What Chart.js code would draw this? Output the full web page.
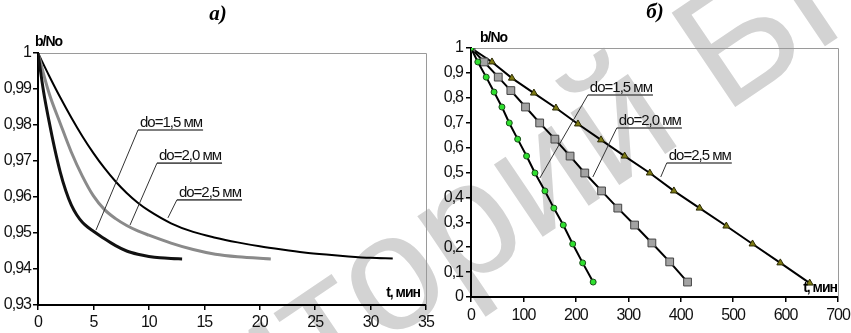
<!DOCTYPE html>
<html>
<head>
<meta charset="utf-8">
<script src="https://cdn.jsdelivr.net/npm/chart.js@4.4.1/dist/chart.umd.min.js"></script>
<style>
  html, body { margin: 0; padding: 0; background: #fff; }
  #wrap { position: relative; width: 851px; height: 333px; overflow: hidden; }
  #wm, #chartA, #chartB { position: absolute; top: 0; }
  #wm { left: 0; }
  #chartA { left: 0; }
  #chartB { left: 430px; }
</style>
</head>
<body>
<div id="wrap">
  <canvas id="wm" width="851" height="333"></canvas>
  <canvas id="chartA" width="440" height="333"></canvas>
  <canvas id="chartB" width="421" height="333"></canvas>
</div>
<script>
// ---- a) b/No against t, min: smooth curves
const tA15 = [0, 0.5, 1, 1.5, 2, 2.5, 3, 3.5, 4, 4.5, 5, 6, 7, 8, 9, 10, 11, 12, 13];
const vA15 = [1, 0.9893, 0.9810, 0.9735, 0.9670, 0.9618, 0.9578, 0.9550, 0.9530, 0.9516, 0.9505, 0.9484, 0.9465, 0.9450, 0.9441, 0.9435, 0.9431, 0.9429, 0.9428];
const tA20 = [0, 1, 2, 3, 4, 5, 6, 7, 8, 9, 10, 12, 14, 16, 18, 21];
const vA20 = [1, 0.9888, 0.9805, 0.9725, 0.9658, 0.9603, 0.9565, 0.9540, 0.9521, 0.9506, 0.9494, 0.9472, 0.9454, 0.9441, 0.9434, 0.9428];
const tA25 = [0, 1, 2, 3, 4, 5, 6, 7, 8, 9, 10, 12, 14, 16, 18, 20, 22, 24, 26, 28, 30, 32];
const vA25 = [1, 0.9937, 0.9877, 0.9821, 0.9769, 0.9722, 0.9680, 0.9643, 0.9611, 0.9584, 0.9562, 0.9527, 0.9503, 0.9487, 0.9474, 0.9463, 0.9454, 0.9446, 0.9440, 0.9435, 0.9431, 0.9429];

const yValsA = [0.93, 0.94, 0.95, 0.96, 0.97, 0.98, 0.99, 1];
const yLabA = ['0,93', '0,94', '0,95', '0,96', '0,97', '0,98', '0,99', '1'];
const xValsA = [0, 5, 10, 15, 20, 25, 30, 35];
const xLabA = ['0', '5', '10', '15', '20', '25', '30', '35'];

// ---- б) b/No against t, min: measured points
const tB15 = [0, 13, 29, 44, 59, 73, 89, 106, 122, 141, 158, 176, 194, 213, 233];
const vB15 = [1, 0.944, 0.883, 0.823, 0.763, 0.699, 0.634, 0.566, 0.498, 0.426, 0.357, 0.289, 0.213, 0.137, 0.06];
const tB20 = [0, 25, 52, 76, 104, 131, 160, 189, 217, 249, 280, 312, 345, 379, 413];
const vB20 = [1, 0.944, 0.883, 0.829, 0.763, 0.699, 0.634, 0.566, 0.498, 0.426, 0.357, 0.289, 0.217, 0.141, 0.06];
const tB25 = [0, 40, 78, 120, 162, 204, 248, 293, 341, 387, 436, 487, 537, 590, 646];
const vB25 = [1, 0.944, 0.879, 0.819, 0.759, 0.695, 0.631, 0.566, 0.498, 0.426, 0.357, 0.285, 0.213, 0.137, 0.056];

const yValsB = [0, 0.1, 0.2, 0.3, 0.4, 0.5, 0.6, 0.7, 0.8, 0.9, 1];
const yLabB = ['0', '0,1', '0,2', '0,3', '0,4', '0,5', '0,6', '0,7', '0,8', '0,9', '1'];
const xValsB = [0, 100, 200, 300, 400, 500, 600, 700];
const xLabB = ['0', '100', '200', '300', '400', '500', '600', '700'];

const labels = ['do=1,5 мм', 'do=2,0 мм', 'do=2,5 мм'];
const WM_TEXT = 'Репозиторий БГУ';

const FONT = "'Liberation Sans', Arial, sans-serif";

const pts = (t, v) => t.map((x, i) => ({ x: x, y: v[i] }));

// background watermark
const wm = document.getElementById('wm').getContext('2d');
wm.font = "165px 'Liberation Sans', sans-serif";
wm.fillStyle = '#d3d3d3';
wm.translate(320, 387);
wm.rotate(-34 * Math.PI / 180);
wm.fillText(WM_TEXT, -wm.measureText('Репози').width, 0);

function axis(vals, labs, size, pad, vertical) {
  return {
    type: 'linear',
    min: vals[0],
    max: vals[vals.length - 1],
    afterBuildTicks: s => { s.ticks = vals.map(v => ({ value: v })); },
    afterFit: s => {
      if (vertical) s.width = size; else s.height = size;
      s.paddingLeft = 0; s.paddingRight = 0; s.paddingTop = 0; s.paddingBottom = 0;
    },
    ticks: {
      callback: (v, i) => labs[i],
      font: { family: FONT, size: 16 },
      color: '#111',
      padding: pad,
      maxRotation: 0,
      autoSkip: false
    },
    grid: { drawOnChartArea: false, drawTicks: true, tickLength: 5, color: '#000', lineWidth: 1.5 },
    border: { color: '#000', width: 2 }
  };
}

// frame, captions and leader lines
const decor = {
  id: 'decor',
  beforeDraw(chart) {
    // the original lettering is narrow
    chart.ctx.letterSpacing = '-1px';
  },
  beforeDatasetsDraw(chart) {
    const { ctx, chartArea: a } = chart;
    ctx.save();
    ctx.strokeStyle = '#9a9a9a';
    ctx.lineWidth = 1;
    ctx.beginPath();
    ctx.moveTo(a.left, a.top + 0.5);
    ctx.lineTo(a.right + 0.5, a.top + 0.5);
    ctx.lineTo(a.right + 0.5, a.bottom);
    ctx.stroke();
    ctx.restore();
  },
  afterDraw(chart, args, o) {
    const { ctx, scales: { x, y } } = chart;
    ctx.save();
    // title a) / б)
    ctx.fillStyle = '#000';
    ctx.letterSpacing = '0px';
    ctx.font = "italic bold 21px 'Liberation Serif', serif";
    ctx.textAlign = 'center';
    ctx.textBaseline = 'middle';
    ctx.fillText(o.title, o.titleX, o.titleY);
    // axis captions
    ctx.letterSpacing = '-1px';
    ctx.font = "bold 14px " + FONT;
    ctx.textAlign = 'left';
    ctx.fillText('b/No', o.yCapX, o.yCapY);
    ctx.textAlign = 'right';
    ctx.fillText('t, мин', o.xCapX, o.xCapY);
    // curve labels
    ctx.font = "15px " + FONT;
    ctx.textAlign = 'left';
    ctx.textBaseline = 'alphabetic';
    o.notes.forEach((n, i) => {
      const X0 = x.getPixelForValue(n.tx), Y0 = y.getPixelForValue(n.ty);
      const X1 = x.getPixelForValue(n.px), Y1 = y.getPixelForValue(n.py);
      const w = ctx.measureText(labels[i]).width;
      ctx.fillStyle = '#111';
      ctx.fillText(labels[i], X0 + 2, Y0 - 3);
      ctx.strokeStyle = '#555';
      ctx.lineWidth = 1.6;
      ctx.beginPath();
      ctx.moveTo(X0, Y0);
      ctx.lineTo(X0 + w + 3, Y0);
      ctx.stroke();
      ctx.strokeStyle = '#333';
      ctx.lineWidth = 1;
      ctx.beginPath();
      ctx.moveTo(X0, Y0);
      ctx.lineTo(X1, Y1);
      ctx.stroke();
    });
    ctx.restore();
  }
};

new Chart(document.getElementById('chartA'), {
  type: 'line',
  data: {
    datasets: [
      { label: labels[0], data: pts(tA15, vA15), borderColor: '#111', borderWidth: 3 },
      { label: labels[1], data: pts(tA20, vA20), borderColor: '#8a8a8a', borderWidth: 3 },
      { label: labels[2], data: pts(tA25, vA25), borderColor: '#000', borderWidth: 2 }
    ]
  },
  options: {
    responsive: false,
    animation: false,
    layout: { padding: { top: 53, right: 14, left: 0, bottom: 0 } },
    elements: { point: { radius: 0 }, line: { cubicInterpolationMode: 'monotone' } },
    scales: {
      x: axis(xValsA, xLabA, 28, 3, false),
      y: axis(yValsA, yLabA, 38, 2, true)
    },
    plugins: {
      legend: { display: false },
      tooltip: { enabled: false },
      decor: {
        title: 'a)', titleX: 218, titleY: 15,
        yCapX: 35, yCapY: 42, xCapX: 420, xCapY: 293,
        notes: [
          { tx: 9.02, ty: 0.9786, px: 5.23, py: 0.9508 },
          { tx: 10.73, ty: 0.9694, px: 8.30, py: 0.9522 },
          { tx: 12.53, ty: 0.9592, px: 11.72, py: 0.9542 }
        ]
      }
    }
  },
  plugins: [decor]
});

new Chart(document.getElementById('chartB'), {
  type: 'line',
  data: {
    datasets: [
      { label: labels[0], data: pts(tB15, vB15), borderColor: '#000', borderWidth: 2,
        pointStyle: 'circle', pointRadius: 3, pointBackgroundColor: '#2fe02f', pointBorderColor: '#1a4d1a', pointBorderWidth: 1 },
      { label: labels[1], data: pts(tB20, vB20), borderColor: '#000', borderWidth: 2,
        pointStyle: 'rect', pointRadius: 5.5, pointBackgroundColor: '#a3a3a3', pointBorderColor: '#444', pointBorderWidth: 1 },
      { label: labels[2], data: pts(tB25, vB25), borderColor: '#000', borderWidth: 2,
        pointStyle: 'triangle', pointRadius: 4, pointBackgroundColor: '#7d7a12', pointBorderColor: '#2b2a05', pointBorderWidth: 1 }
    ]
  },
  options: {
    responsive: false,
    animation: false,
    layout: { padding: { top: 48, right: 13, left: 0, bottom: 0 } },
    elements: { line: { tension: 0 } },
    scales: {
      x: axis(xValsB, xLabB, 36, 4, false),
      y: axis(yValsB, yLabB, 41, 3, true)
    },
    plugins: {
      legend: { display: false },
      tooltip: { enabled: false },
      decor: {
        title: 'б)', titleX: 225, titleY: 13,
        yCapX: 50, yCapY: 38, xCapX: 407, xCapY: 288,
        notes: [
          { tx: 222.9, ty: 0.811, px: 131.4, py: 0.478 },
          { tx: 278.1, ty: 0.679, px: 232.4, py: 0.482 },
          { tx: 373.3, ty: 0.538, px: 361.9, py: 0.482 }
        ]
      }
    }
  },
  plugins: [decor]
});
</script>
</body>
</html>
